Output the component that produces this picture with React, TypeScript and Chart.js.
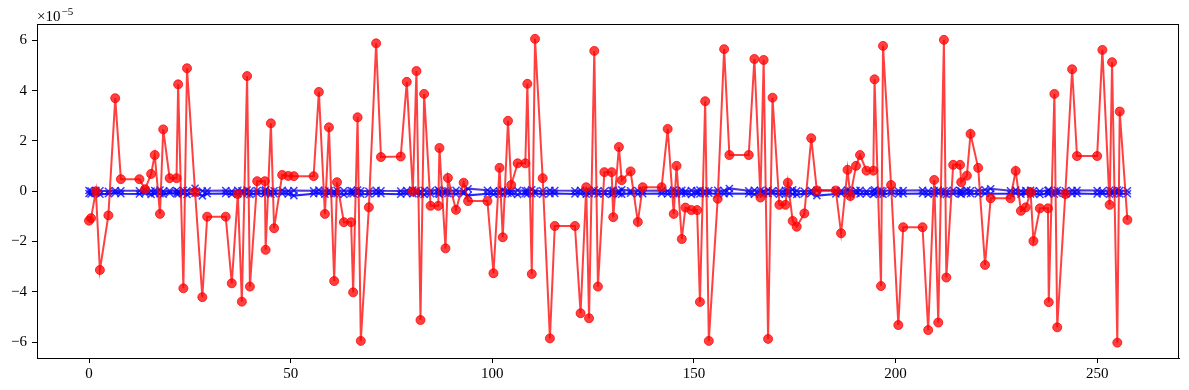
import React, { useEffect, useRef } from "react";
import { Chart, registerables } from "chart.js";

Chart.register(...registerables);

// x positions shared by all series
const xValues: number[] = [
  0, 0.5, 1.7, 2.7, 4.8, 6.5, 7.9,
  12.5, 13.9, 15.4, 16.3, 17.6, 18.4, 20.0, 21.7, 22.1, 23.4, 24.3, 26.3, 28.1, 29.3,
  33.9, 35.4, 36.9, 37.9, 39.2, 39.9, 41.7, 43.6, 43.8, 45.1, 45.9, 47.9, 49.4, 50.8,
  55.7, 57.0, 58.5, 59.5, 60.8, 61.5, 63.2, 65.0, 65.5, 66.6, 67.4, 69.4, 71.2, 72.4,
  77.3, 78.8, 80.3, 81.2, 82.2, 83.1, 84.7, 86.6, 86.9, 88.4, 89.0, 91.0, 92.9, 94.0,
  98.8, 100.3, 101.8, 102.6, 103.9, 104.7, 106.3, 108.2, 108.7, 109.8, 110.6, 112.5, 114.3, 115.5,
  120.5, 121.9, 123.3, 124.0, 125.3, 126.2, 127.8, 129.6, 130.0, 131.4, 132.1, 134.3, 136.1, 137.3,
  142.0, 143.5, 145.0, 145.7, 147.0, 147.9, 149.4, 150.8, 151.5, 152.8, 153.7, 155.9, 157.5, 158.8,
  163.6, 165.0, 166.5, 167.3, 168.4, 169.5, 171.2, 172.7, 173.3, 174.5, 175.5, 177.4, 179.1, 180.5,
  185.2, 186.5, 188.1, 188.8, 190.2, 191.2, 192.8, 194.5, 194.8, 196.4, 196.9, 198.9, 200.7, 201.9,
  206.7, 208.1, 209.6, 210.6, 212.0, 212.6, 214.3, 216.0, 216.3, 217.7, 218.6, 220.5, 222.2, 223.6,
  228.5, 229.8, 231.1, 232.3, 233.5, 234.2, 235.8, 237.8, 238.0, 239.4, 240.1, 242.1, 243.8, 245.0,
  250.0, 251.3, 253.1, 253.7, 255.0, 255.6, 257.5,
];

// values in units of 1e-5
const redValues: number[] = [
  -1.17, -1.07, 0.0, -3.13, -0.96, 3.70, 0.48,
  0.48, 0.08, 0.69, 1.44, -0.90, 2.46, 0.52, 0.52, 4.25, -3.86, 4.89, -0.03, -4.21, -1.01,
  -1.01, -3.66, -0.11, -4.39, 4.58, -3.79, 0.40, 0.40, -2.33, 2.70, -1.47, 0.65, 0.61, 0.60,
  0.60, 3.95, -0.90, 2.54, -3.57, 0.36, -1.23, -1.23, -4.02, 2.94, -5.95, -0.64, 5.88, 1.36,
  1.38, 4.35, -0.01, 4.78, -5.12, 3.87, -0.58, -0.58, 1.72, -2.27, 0.53, -0.74, 0.34, -0.39,
  -0.39, -3.26, 0.93, -1.83, 2.80, 0.25, 1.11, 1.11, 4.27, -3.29, 6.06, 0.52, -5.85, -1.38,
  -1.38, -4.85, 0.16, -5.05, 5.58, -3.79, 0.76, 0.76, -1.03, 1.76, 0.44, 0.79, -1.22, 0.16,
  0.16, 2.48, -0.90, 1.01, -1.90, -0.65, -0.75, -0.75, -4.40, 3.58, -5.95, -0.30, 5.65, 1.44,
  1.44, 5.26, -0.25, 5.22, -5.87, 3.72, -0.54, -0.54, 0.34, -1.18, -1.41, -0.88, 2.11, 0.03,
  0.03, -1.67, 0.85, -0.19, 1.01, 1.44, 0.82, 0.82, 4.45, -3.77, 5.78, 0.25, -5.32, -1.43,
  -1.43, -5.52, 0.45, -5.22, 6.02, -3.43, 1.05, 1.05, 0.36, 0.62, 2.28, 0.93, -2.93, -0.28,
  -0.28, 0.81, -0.78, -0.64, -0.04, -1.98, -0.68, -0.68, -4.41, 3.87, -5.41, -0.11, 4.85, 1.40,
  1.40, 5.62, -0.54, 5.13, -6.02, 3.17, -1.14,
];

const blueUpper: number[] = [
  0.03, 0.01, 0.04, 0.02, 0.00, 0.03, 0.02,
  0.02, 0.04, 0.01, 0.03, 0.05, 0.00, 0.02, 0.03, -0.01, 0.04, 0.02, 0.12, 0.01, 0.02,
  0.03, 0.00, 0.04, 0.02, 0.05, 0.01, 0.03, 0.02, 0.06, 0.00, 0.02, 0.04, 0.01, 0.03,
  0.02, 0.05, 0.01, 0.03, 0.00, 0.04, 0.02, 0.03, 0.01, 0.05, 0.02, 0.00, 0.04, 0.02,
  0.01, 0.03, 0.05, 0.02, 0.00, 0.04, 0.02, 0.06, 0.01, 0.03, 0.02, 0.04, 0.00, 0.10,
  0.04, 0.02, 0.00, 0.05, 0.03, 0.01, 0.04, 0.02, 0.03, 0.06, 0.01, 0.02, 0.04, 0.03,
  0.02, 0.04, 0.01, 0.03, 0.05, 0.02, 0.00, 0.03, 0.04, 0.01, 0.06, 0.02, 0.03, 0.02,
  0.03, 0.01, 0.05, 0.02, 0.04, 0.00, 0.03, 0.02, 0.05, 0.01, 0.03, 0.04, 0.02, 0.11,
  0.02, 0.04, 0.03, 0.00, 0.05, 0.02, 0.01, 0.04, 0.03, 0.06, 0.02, 0.00, 0.03, 0.04,
  0.03, 0.02, 0.05, 0.01, 0.03, 0.04, 0.00, 0.02, 0.06, 0.03, 0.01, 0.04, 0.02, 0.03,
  0.04, 0.01, 0.03, 0.05, 0.02, 0.00, 0.04, 0.03, 0.01, 0.05, 0.02, 0.03, 0.06, 0.10,
  0.02, 0.05, 0.01, 0.03, 0.04, 0.02, 0.00, 0.03, 0.05, 0.01, 0.04, 0.02, 0.03, 0.04,
  0.03, 0.01, 0.04, 0.02, 0.05, 0.03, 0.02,
];

const blueLower: number[] = [
  -0.09, -0.11, -0.08, -0.12, -0.10, -0.07, -0.10,
  -0.11, -0.08, -0.13, -0.09, -0.10, -0.12, -0.07, -0.10, -0.11, -0.09, -0.13, -0.08, -0.18, -0.10,
  -0.09, -0.12, -0.10, -0.08, -0.11, -0.13, -0.09, -0.10, -0.07, -0.12, -0.10, -0.09, -0.11, -0.17,
  -0.10, -0.08, -0.12, -0.09, -0.11, -0.10, -0.13, -0.08, -0.10, -0.09, -0.12, -0.11, -0.09, -0.10,
  -0.12, -0.09, -0.10, -0.08, -0.11, -0.13, -0.10, -0.09, -0.12, -0.08, -0.10, -0.11, -0.09, -0.16,
  -0.10, -0.12, -0.09, -0.11, -0.08, -0.10, -0.13, -0.09, -0.11, -0.10, -0.08, -0.12, -0.10, -0.09,
  -0.11, -0.09, -0.12, -0.10, -0.08, -0.11, -0.10, -0.13, -0.09, -0.10, -0.12, -0.08, -0.11, -0.10,
  -0.09, -0.11, -0.10, -0.12, -0.08, -0.10, -0.13, -0.09, -0.11, -0.10, -0.08, -0.12, -0.10, -0.09,
  -0.10, -0.12, -0.09, -0.11, -0.10, -0.08, -0.12, -0.10, -0.09, -0.11, -0.13, -0.10, -0.08, -0.17,
  -0.11, -0.09, -0.10, -0.12, -0.08, -0.11, -0.10, -0.13, -0.09, -0.10, -0.12, -0.08, -0.11, -0.10,
  -0.09, -0.12, -0.10, -0.08, -0.11, -0.13, -0.09, -0.10, -0.12, -0.08, -0.10, -0.11, -0.09, -0.10,
  -0.10, -0.08, -0.12, -0.09, -0.11, -0.10, -0.13, -0.09, -0.10, -0.12, -0.08, -0.11, -0.10, -0.09,
  -0.11, -0.09, -0.12, -0.10, -0.08, -0.11, -0.10,
];

const xTicks: number[] = [0, 50, 100, 150, 200, 250];
const yTicks: number[] = [-6, -4, -2, 0, 2, 4, 6];
const multiplierBase = "×10";
const multiplierExp = "−5";

const FONT = '"Liberation Serif", "DejaVu Serif", serif';

const boxPlugin = {
  id: "boxAndOffset",
  afterDraw(chart: any) {
    const { ctx, chartArea } = chart;
    const { left, top, right, bottom } = chartArea;
    ctx.save();
    ctx.strokeStyle = "#000";
    ctx.lineWidth = 1;
    ctx.strokeRect(Math.round(left) + 0.5, Math.round(top) + 0.5, Math.round(right - left) - 1, Math.round(bottom - top));
    ctx.fillStyle = "#000";
    ctx.textBaseline = "alphabetic";
    ctx.textAlign = "left";
    ctx.font = `15px ${FONT}`;
    const x0 = left;
    ctx.fillText(multiplierBase, x0, 21);
    const w = ctx.measureText(multiplierBase).width;
    ctx.font = `11px ${FONT}`;
    ctx.fillText(multiplierExp, x0 + w + 1, 15);
    ctx.restore();
  },
};

export default function App() {
  const ref = useRef<HTMLCanvasElement>(null);
  useEffect(() => {
    const canvas = ref.current!;
    const pts = (ys: number[]) => xValues.map((x, i) => ({ x, y: ys[i] }));
    const tickFont = { family: FONT, size: 15 };
    const chart = new Chart(canvas, {
      type: "line",
      data: {
        datasets: [
          {
            data: pts(redValues),
            borderColor: "rgba(255,0,0,0.75)",
            backgroundColor: "rgba(255,0,0,0.75)",
            pointBackgroundColor: "rgba(255,0,0,0.75)",
            pointBorderColor: "rgba(255,0,0,0.75)",
            pointStyle: "circle",
            pointRadius: 4.5,
            pointBorderWidth: 1,
            borderWidth: 2,
            tension: 0,
          },
          {
            data: pts(blueUpper),
            borderColor: "rgba(50,20,210,0.85)",
            pointBorderColor: "rgba(0,0,255,0.75)",
            pointBackgroundColor: "rgba(0,0,255,0.75)",
            pointStyle: "crossRot",
            pointRadius: 5,
            pointBorderWidth: 1.6,
            borderWidth: 2.2,
            tension: 0,
          },
          {
            data: pts(blueLower),
            borderColor: "rgba(0,0,255,0.85)",
            pointBorderColor: "rgba(0,0,255,0.75)",
            pointBackgroundColor: "rgba(0,0,255,0.75)",
            pointStyle: "crossRot",
            pointRadius: 5,
            pointBorderWidth: 1.6,
            borderWidth: 2.2,
            tension: 0,
          },
        ],
      },
      options: {
        animation: false,
        responsive: false,
        layout: { padding: { top: 24, right: 10, left: 0, bottom: 0 } },
        plugins: { legend: { display: false }, tooltip: { enabled: false } },
        scales: {
          x: {
            type: "linear",
            min: -12.9,
            max: 270.3,
            afterBuildTicks: (s: any) => {
              s.ticks = xTicks.map((v) => ({ value: v }));
            },
            afterFit: (s: any) => {
              s.height = 32;
            },
            grid: { display: true, drawOnChartArea: false, drawTicks: true, tickLength: 5, color: "#000" },
            border: { display: true, color: "#000", width: 1 },
            ticks: { font: tickFont, color: "#000", padding: 2, maxRotation: 0, autoSkip: false, callback: (v: any) => String(v) },
          },
          y: {
            type: "linear",
            min: -6.63,
            max: 6.65,
            afterBuildTicks: (s: any) => {
              s.ticks = yTicks.map((v) => ({ value: v }));
            },
            afterFit: (s: any) => {
              s.width = 37;
            },
            grid: { display: true, drawOnChartArea: false, drawTicks: true, tickLength: 5, color: "#000" },
            border: { display: true, color: "#000", width: 1 },
            ticks: {
              font: tickFont,
              color: "#000",
              padding: 5,
              autoSkip: false,
              callback: (v: any) => (Number(v) < 0 ? "−" + String(Math.abs(Number(v))) : String(v)),
            },
          },
        },
      },
      plugins: [boxPlugin],
    });
    return () => chart.destroy();
  }, []);
  return (
    <div style={{ position: "absolute", left: 0, top: 0, width: 1189, height: 390, background: "#fff" }}>
      <canvas ref={ref} width={1189} height={390} style={{ display: "block" }} />
    </div>
  );
}
